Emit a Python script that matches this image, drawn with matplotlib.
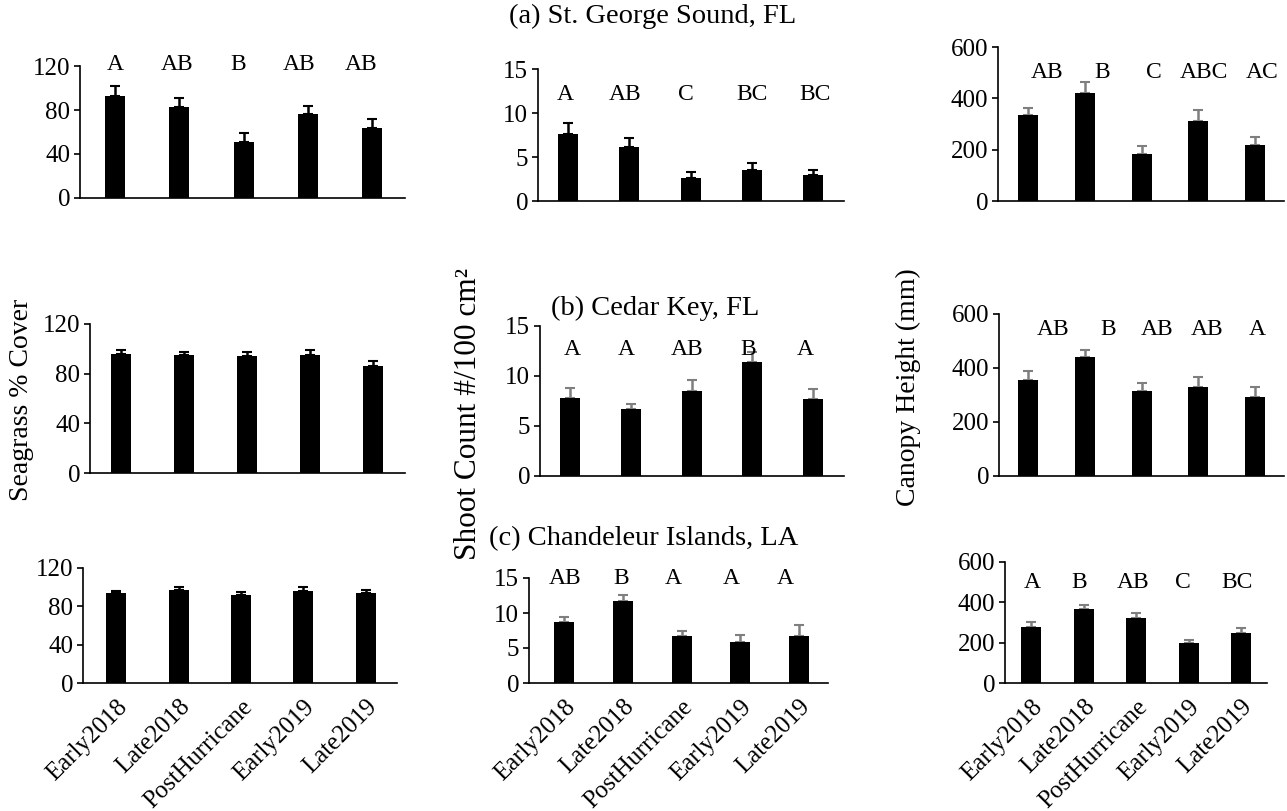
import numpy as np
import matplotlib
matplotlib.use("Agg")
import matplotlib.pyplot as plt

plt.rcParams['font.family'] = ['Liberation Serif', 'DejaVu Serif']

periods = ['Early2018', 'Late2018', 'PostHurricane', 'Early2019', 'Late2019']

# (a) St. George Sound, FL
sgs_cover = [93, 83, 51, 76, 64]
sgs_cover_err = [9, 8, 8, 8, 8]
sgs_shoot = [7.6, 6.1, 2.65, 3.5, 3.0]
sgs_shoot_err = [1.3, 1.1, 0.6, 0.85, 0.55]
sgs_height = [337, 421, 183, 313, 219]
sgs_height_err = [24, 43, 30, 41, 29]

# (b) Cedar Key, FL
ck_cover = [95.8, 94.7, 93.9, 95.0, 86.1]
ck_cover_err = [3.2, 3.0, 3.7, 3.7, 4.0]
ck_shoot = [7.85, 6.75, 8.5, 11.4, 7.75]
ck_shoot_err = [0.95, 0.45, 1.1, 0.95, 1.0]
ck_height = [357, 442, 313, 328, 293]
ck_height_err = [33, 25, 30, 37, 38]

# (c) Chandeleur Islands, LA
ci_cover = [93.9, 97.4, 91.5, 96.4, 93.6]
ci_cover_err = [2.1, 2.4, 3.5, 3.8, 3.8]
ci_shoot = [8.7, 11.7, 6.75, 5.9, 6.7]
ci_shoot_err = [0.7, 0.9, 0.7, 0.95, 1.6]
ci_height = [278, 368, 322, 196, 248]
ci_height_err = [23, 17, 23, 15, 23]

# significance letters
sgs_cover_let = ['A', 'AB', 'B', 'AB', 'AB']
sgs_shoot_let = ['A', 'AB', 'C', 'BC', 'BC']
sgs_height_let = ['AB', 'B', 'C', 'ABC', 'AC']
ck_shoot_let = ['A', 'A', 'AB', 'B', 'A']
ck_height_let = ['AB', 'B', 'AB', 'AB', 'A']
ci_shoot_let = ['AB', 'B', 'A', 'A', 'A']
ci_height_let = ['A', 'B', 'AB', 'C', 'BC']

W, H = 1287, 811
fig = plt.figure(figsize=(W / 100, H / 100), dpi=100)

# panel layout in pixels: left spine, axis end, top, bottom, first bar centre, last bar centre
panels = [
    # row a
    dict(px=(80, 405, 66, 198, 115, 372), vals=sgs_cover, err=sgs_cover_err, ec='black',
         ylim=120, ticks=[0, 40, 80, 120], let=sgs_cover_let, let_y=121,
         let_x=[0, 0.965, 1.92, 2.86, 3.83]),
    dict(px=(538, 844, 69, 201, 568, 813), vals=sgs_shoot, err=sgs_shoot_err, ec='black',
         ylim=15, ticks=[0, 5, 10, 15], let=sgs_shoot_let, let_y=12.1,
         let_x=[-0.05, 0.93, 1.93, 3.0, 4.03]),
    dict(px=(998, 1284, 47, 201, 1028, 1255), vals=sgs_height, err=sgs_height_err, ec='#7f7f7f',
         ylim=600, ticks=[0, 200, 400, 600], let=sgs_height_let, let_y=499,
         let_x=[0.33, 1.30, 2.22, 3.10, 4.12]),
    # row b
    dict(px=(90, 405, 324, 473, 121, 373), vals=ck_cover, err=ck_cover_err, ec='black',
         ylim=120, ticks=[0, 40, 80, 120], let=None),
    dict(px=(540, 844, 326, 476, 570, 813), vals=ck_shoot, err=ck_shoot_err, ec='#7f7f7f',
         ylim=15, ticks=[0, 5, 10, 15], let=ck_shoot_let, let_y=12.6,
         let_x=[0.03, 0.92, 1.92, 2.94, 3.88]),
    dict(px=(999, 1284, 314, 476, 1028, 1255), vals=ck_height, err=ck_height_err, ec='#7f7f7f',
         ylim=600, ticks=[0, 200, 400, 600], let=ck_height_let, let_y=543,
         let_x=[0.44, 1.41, 2.27, 3.15, 4.04]),
    # row c
    dict(px=(83, 397, 568, 683, 116, 366), vals=ci_cover, err=ci_cover_err, ec='black',
         ylim=120, ticks=[0, 40, 80, 120], let=None, xlab=True),
    dict(px=(529, 828, 578, 683, 564, 799), vals=ci_shoot, err=ci_shoot_err, ec='#7f7f7f',
         ylim=15, ticks=[0, 5, 10, 15], let=ci_shoot_let, let_y=14.9,
         let_x=[0.02, 0.97, 1.86, 2.85, 3.76], xlab=True),
    dict(px=(1005, 1267, 562, 683, 1031, 1241), vals=ci_height, err=ci_height_err, ec='#7f7f7f',
         ylim=600, ticks=[0, 200, 400, 600], let=ci_height_let, let_y=496,
         let_x=[0.03, 0.92, 1.95, 2.89, 3.92], xlab=True),
]

tick_fs = 18
let_fs = 17
title_fs = 20.5
x = np.arange(len(periods))

for p in panels:
    L, R, T, B, c0, c4 = p['px']
    ax = fig.add_axes([L / W, 1 - B / H, (R - L) / W, (B - T) / H])
    sp = (c4 - c0) / 4
    ax.set_xlim(-(c0 - L) / sp, 4 + (R - c4) / sp)
    ax.set_ylim(0, p['ylim'])
    ax.bar(x, p['vals'], width=20 / sp, color='black', zorder=2)
    ax.errorbar(x, p['vals'], yerr=[np.zeros(len(x)), p['err']], fmt='none',
                ecolor=p['ec'], elinewidth=1.8, capsize=3.5, capthick=1.5, zorder=1)
    ax.set_yticks(p['ticks'])
    ax.tick_params(axis='y', direction='out', length=4, width=1.2, labelsize=tick_fs, pad=3)
    ax.tick_params(axis='x', length=0, labelsize=tick_fs)
    for s in ['top', 'right']:
        ax.spines[s].set_visible(False)
    for s in ['left', 'bottom']:
        ax.spines[s].set_linewidth(1.2)
    ax.patch.set_alpha(0)
    if p.get('xlab'):
        ax.set_xticks(x)
        ax.set_xticklabels(periods, rotation=45, ha='right', rotation_mode='anchor')
        ax.tick_params(axis='x', pad=9)
    else:
        ax.set_xticks([])
    if p['let'] is not None:
        for lx, lt in zip(p['let_x'], p['let']):
            ax.text(lx, p['let_y'], lt, ha='center', va='center', fontsize=let_fs)

# site titles
fig.text(653 / W, 1 - 16 / H, '(a) St. George Sound, FL', ha='center', va='center', fontsize=title_fs)
fig.text(655 / W, 1 - 308 / H, '(b) Cedar Key, FL', ha='center', va='center', fontsize=title_fs)
fig.text(644 / W, 1 - 539 / H, '(c) Chandeleur Islands, LA', ha='center', va='center', fontsize=title_fs)

# y labels
fig.text(22 / W, 1 - 400 / H, 'Seagrass % Cover', rotation=90, ha='center', va='center', fontsize=20)
fig.text(469 / W, 1 - 414 / H, 'Shoot Count #/100 cm²', rotation=90, ha='center', va='center', fontsize=22.5)
fig.text(908 / W, 1 - 387 / H, 'Canopy Height (mm)', rotation=90, ha='center', va='center', fontsize=20)

fig.savefig('out.png', dpi=100)
